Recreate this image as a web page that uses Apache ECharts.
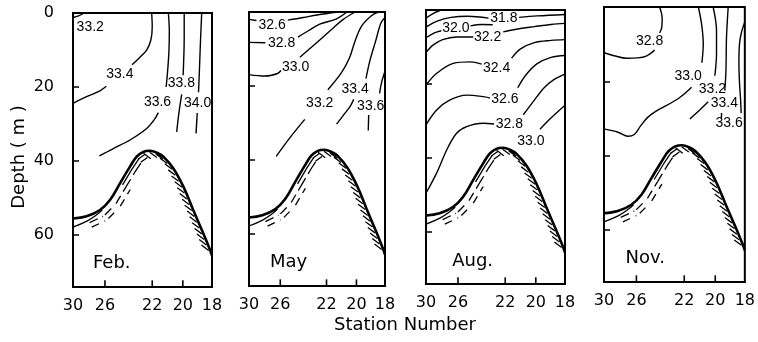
<!DOCTYPE html>
<html>
<head>
<meta charset="utf-8">
<script src="https://cdn.jsdelivr.net/npm/echarts@6/dist/echarts.min.js"></script>
<style>
    html, body { margin: 0; padding: 0; background: #fff; }
    #chart { width: 758px; height: 342px; }
</style>
</head>
<body>
<div id="chart"></div>
<script>
// station axis: relative distance along the transect (0 = St.30, 100 = St.18)
const stationTicks = [0, 23, 57, 79, 100];
const stationLabels = ['30', '26', '22', '20', '18'];
const depthTicks = [0, 20, 40, 60];
const DEPTH_MAX = 74;
const months = ['Feb.', 'May', 'Aug.', 'Nov.'];

// sea bottom profile [distance, depth m]
const bottomProfile = [[0, 55.5], [9.8, 54.9], [19.4, 53.2], [26.6, 50.5], [33.8, 46], [41, 41.5],
    [45.8, 38.8], [50.6, 37.5], [55.4, 37.2], [60.2, 37.7], [65, 38.8], [72.2, 42], [79.4, 46.9],
    [86.5, 53.2], [93.7, 59.5], [98.6, 64], [100, 65.5]];
const shelfLine = [[0, 57.8], [10, 56.2], [17, 54.5], [21, 53.2]];

// isohalines: [label, label position, segment, segment...]
const febContours = [
    ['33.2', [12.4, 3.8], [[0, 1.2], [4, 0.8], [8, 0]]],
    ['33.4', [33.7, 16.5], [[0, 24.4], [9.8, 22.6], [19.4, 21], [24, 19.8]],
        [[42.5, 14], [48, 12], [53, 10], [56, 7.3], [57, 3.7], [56.6, 0]]],
    ['33.6', [60.8, 24], [[19, 38.6], [29, 36.6], [41, 34.3], [53, 31.2], [58.5, 28.8], [61.4, 26.9]],
        [[67, 20], [68, 16], [69, 10.5], [69.3, 5], [68.6, 0]]],
    ['33.8', [78, 19], [[80, 0], [80, 6.8], [79.4, 15.4], [79.2, 16.8]],
        [[78.2, 22], [76.3, 26.7], [74.6, 32.1]]],
    ['34.0', [89.6, 24.4], [[92.6, 0], [91.8, 6.8], [90.9, 15.9], [90.3, 21.4]],
        [[89.4, 27], [88.5, 32.5]]]
];
const mayContours = [
    ['32.6', [17, 3.6], [[0, 2], [5.5, 2.3]], [[28.5, 2.2], [40, 1.5], [50, 0.8], [65.5, 0]]],
    ['32.8', [24, 8.4], [[0, 8.2], [12, 8.3]], [[36, 6.8], [44, 5], [52, 3.3], [64, 1.9], [72, 0]]],
    ['33.0', [34.3, 15], [[0, 16.9], [11.6, 17.3], [21, 16.6], [23.5, 15.8]],
        [[37.4, 12.2], [49.7, 8.3], [60.7, 4.7], [69.3, 2], [78, 0]]],
    ['33.2', [52, 24.5], [[20, 39], [30, 34], [41, 29]],
        [[58, 21], [68, 16.4], [74, 12.3], [78, 7.8], [83, 3.7], [90, 1], [95, 0]]],
    ['33.4', [78, 20.9], [[64.4, 30.3], [70, 27.6], [74.5, 25.4], [77, 23.6]],
        [[86, 18], [89, 13], [93, 8], [97, 3], [100, 1.5]]],
    ['33.6', [89.5, 25.3], [[88, 27.8], [87.7, 32]], [[96, 22], [97.5, 19], [100, 16]]]
];
const augContours = [
    ['', null, [[0, 2.2], [6, 0.8], [11, 0]]],
    ['31.8', [56, 2.2], [[0, 4.6], [8, 3], [18, 2], [30, 1.7], [45, 2.2]], [[67, 2], [80, 1.6], [100, 1.2]]],
    ['32.0', [21.5, 5], [[0, 7.5], [6, 6.2], [11, 5.6]], [[32, 4.3], [40, 3.9], [48, 4]]],
    ['32.2', [44.3, 7.3], [[0, 11.5], [5, 9.5], [12, 8], [22, 7.3], [34, 7.3]],
        [[55.6, 5.9], [65, 5.2], [78, 4.5], [90, 3.9], [100, 3.6]]],
    ['32.4', [50.8, 15.8], [[0, 20.3], [7.7, 17.1], [19.6, 14.4], [31.7, 14], [40, 14.6]],
        [[61.6, 13], [68, 10.5], [78, 8.8], [90, 8.2], [100, 8]]],
    ['32.6', [56.8, 24.1], [[0, 31], [7.7, 27], [17.3, 24.3], [29.3, 23], [41.2, 23.4], [46, 23.8]],
        [[66, 21], [72, 17.5], [80, 14.5], [90, 12.8], [100, 12.3]]],
    ['32.8', [60, 30.8], [[0, 49.5], [7.7, 44], [14.9, 37.8], [22, 33.3], [29.3, 31.5], [41.2, 30.6], [49, 30.8]],
        [[70, 28.3], [77, 24.8], [85, 21], [92, 18.8], [100, 17.3]]],
    ['33.0', [75.5, 35.3], [[82, 32.2], [89.5, 29.3], [100, 25.7]]]
];
const novContours = [
    ['32.8', [32.4, 9.3], [[39.5, 0], [41.3, 3], [41, 5.5], [39.5, 7]],
        [[36, 11.6], [30, 13.2], [24, 13.7], [16, 13.8], [8, 13.2], [0, 12.3]]],
    ['33.0', [59.8, 18.5], [[67, 0], [69.3, 4.6], [70.5, 9.9], [69.5, 15]],
        [[62.2, 21.6], [54, 24.3], [44.5, 26.5], [37, 28], [31, 29.7], [26, 32], [21.5, 34.3], [17, 34.8], [10, 33.7], [0, 32.8]]],
    ['33.2', [77, 22], [[77.5, 0], [79.9, 6.4], [79.9, 12.6], [78.7, 18.5]], [[74, 25.5], [68, 27.7], [61, 30.1]]],
    ['33.4', [85.5, 26], [[88.2, 0], [87, 8.1], [86.6, 17.1], [85.8, 22.5]], [[83.5, 28.5], [83.3, 30]]],
    ['33.6', [88.8, 31.2], [[100, 4], [97.5, 7], [96.2, 10], [95.8, 15], [96.2, 20.2], [97, 25], [97.4, 28.5]]]
];

const panels = [febContours, mayContours, augContours, novContours];
const grids = [
    { left: 73, top: 13, width: 139, height: 274 },
    { left: 249, top: 12, width: 136, height: 274 },
    { left: 426, top: 10, width: 139, height: 274 },
    { left: 604, top: 7, width: 141, height: 275 }
];
const monthPos = [[14, 67.5], [15, 67.5], [18.5, 68], [15, 67.5]];
const FONT = 'DejaVu Sans';
const TICK_DEPTH = 1.8; // inner tick length in metres (about 6-7 px)

function hatchRenderer(params, api) {
    const i = params.dataIndex;
    if (i >= bottomProfile.length - 1) return;
    const a = bottomProfile[i];
    const b = bottomProfile[i + 1];
    const p0 = api.coord(a);
    const p1 = api.coord(b);
    const dx = p1[0] - p0[0];
    const dy = p1[1] - p0[1];
    const len = Math.hypot(dx, dy);
    const tx = dx / len, ty = dy / len;
    const nx = -ty, ny = tx; // points into the ground
    const style = { stroke: '#000', lineWidth: 1.3, fill: null };
    const children = [];
    if (a[0] >= 50) {
        const count = Math.max(1, Math.round(len / 6.5));
        for (let k = 0; k < count; k++) {
            const x = p0[0] + dx * k / count;
            const y = p0[1] + dy * k / count;
            let sx = 0.8, sy = 0.6;
            if (sx * nx + sy * ny < 0) { sx = -sx; sy = -sy; }
            children.push({
                type: 'line',
                shape: { x1: x + nx * 1.5, y1: y + ny * 1.5, x2: x + sx * 9 + nx * 1.5, y2: y + sy * 9 + ny * 1.5 },
                style
            });
        }
    } else {
        const rows = [];
        if (a[0] >= 33) rows.push({ off: 3, dash: null });
        if (a[0] >= 5) rows.push({ off: 7, dash: [9, 5] });
        if (a[0] >= 8 && a[0] < 30) rows.push({ off: 12, dash: [8, 6] });
        rows.forEach(r => {
            children.push({
                type: 'line',
                shape: {
                    x1: p0[0] + nx * r.off, y1: p0[1] + ny * r.off,
                    x2: p1[0] + nx * r.off, y2: p1[1] + ny * r.off
                },
                style: Object.assign({}, style, { lineDash: r.dash })
            });
        });
    }
    return { type: 'group', children };
}

const series = [];
const xAxes = [];
const yAxes = [];

panels.forEach((contours, gi) => {
    xAxes.push({
        type: 'value', gridIndex: gi, min: 0, max: 100, position: 'bottom',
        axisLine: { show: true, onZero: false, lineStyle: { color: '#000', width: 2 } },
        splitLine: { show: false },
        axisTick: { show: false },
        axisLabel: {
            customValues: stationTicks, margin: 11,
            formatter: v => stationLabels[stationTicks.indexOf(v)],
            color: '#000', fontFamily: FONT, fontSize: 16
        }
    });
    yAxes.push({
        type: 'value', gridIndex: gi, min: 0, max: DEPTH_MAX, inverse: true,
        axisLine: { show: true, lineStyle: { color: '#000', width: 2 } },
        splitLine: { show: false },
        axisTick: { inside: true, length: 6, customValues: depthTicks, lineStyle: { color: '#000', width: 1.5 } },
        axisLabel: {
            show: gi === 0, customValues: depthTicks, margin: 19,
            color: '#000', fontFamily: FONT, fontSize: 16
        }
    });

    const labelData = [];
    contours.forEach(c => {
        const text = c[0];
        const pos = c[1];
        c.slice(2).forEach(seg => {
            series.push({
                type: 'line', xAxisIndex: gi, yAxisIndex: gi, data: seg,
                smooth: 0.35, symbol: 'none', silent: true,
                lineStyle: { color: '#000', width: 1.4 }
            });
        });
        if (pos) labelData.push({ value: pos, name: text });
    });

    // station tick marks standing on the bottom axis
    stationTicks.slice(1, -1).forEach(v => {
        series.push({
            type: 'line', xAxisIndex: gi, yAxisIndex: gi,
            data: [[v, DEPTH_MAX], [v, DEPTH_MAX - TICK_DEPTH]],
            symbol: 'none', silent: true, clip: false, z: 5,
            lineStyle: { color: '#000', width: 1.6 }
        });
    });

    series.push({
        type: 'scatter', xAxisIndex: gi, yAxisIndex: gi, data: labelData,
        symbolSize: 1, itemStyle: { color: 'rgba(0,0,0,0)', opacity: 1 }, silent: true,
        label: {
            show: true, position: 'inside', formatter: '{b}', opacity: 1,
            color: '#000', textBorderWidth: 0, fontFamily: 'Liberation Sans', fontSize: 14
        }
    });
    series.push({
        type: 'scatter', xAxisIndex: gi, yAxisIndex: gi,
        data: [{ value: monthPos[gi], name: months[gi] }],
        symbolSize: 1, itemStyle: { color: 'rgba(0,0,0,0)', opacity: 1 }, silent: true,
        label: {
            show: true, position: 'right', distance: 0, formatter: '{b}', opacity: 1,
            color: '#000', textBorderWidth: 0, fontFamily: FONT, fontSize: 18
        }
    });
    series.push({
        type: 'line', xAxisIndex: gi, yAxisIndex: gi, data: bottomProfile,
        smooth: 0.4, symbol: 'none', silent: true,
        lineStyle: { color: '#000', width: 2.6 }
    });
    series.push({
        type: 'line', xAxisIndex: gi, yAxisIndex: gi, data: shelfLine,
        smooth: 0.4, symbol: 'none', silent: true,
        lineStyle: { color: '#000', width: 1.3 }
    });
    series.push({
        type: 'custom', xAxisIndex: gi, yAxisIndex: gi, data: bottomProfile,
        renderItem: hatchRenderer, silent: true, clip: true
    });
});

const chart = echarts.init(document.getElementById('chart'), null, { renderer: 'canvas' });
chart.setOption({
    animation: false,
    backgroundColor: '#fff',
    grid: grids.map(g => Object.assign({ show: true, borderColor: '#000', borderWidth: 2 }, g)),
    xAxis: xAxes,
    yAxis: yAxes,
    series,
    graphic: [
        {
            type: 'text', x: 19, y: 157, rotation: Math.PI / 2,
            style: { text: 'Depth ( m )', align: 'center', verticalAlign: 'middle', font: '18px "DejaVu Sans"', fill: '#000' }
        },
        {
            type: 'text', x: 405, y: 325,
            style: { text: 'Station Number', align: 'center', verticalAlign: 'middle', font: '18px "DejaVu Sans"', fill: '#000' }
        }
    ]
});
</script>
</body>
</html>
